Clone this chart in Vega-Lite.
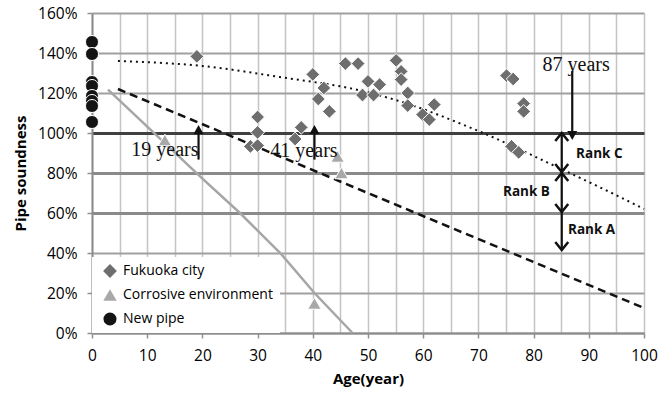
{
  "$schema": "https://vega.github.io/schema/vega-lite/v6.json",
  "width": 552,
  "height": 320,
  "autosize": "none",
  "padding": {"left": 92, "top": 13, "right": 23, "bottom": 61},
  "background": "white",
  "config": {"view": {"stroke": null}, "font": "Open Sans"},
  "datasets": {
    "points": [
      {"series": "Fukuoka city", "x": 19, "y": 138.3},
      {"series": "Fukuoka city", "x": 28.7, "y": 93.3},
      {"series": "Fukuoka city", "x": 30, "y": 93.7},
      {"series": "Fukuoka city", "x": 30, "y": 100.3},
      {"series": "Fukuoka city", "x": 30, "y": 108},
      {"series": "Fukuoka city", "x": 36.8, "y": 97},
      {"series": "Fukuoka city", "x": 37.9, "y": 102.8},
      {"series": "Fukuoka city", "x": 40, "y": 129.3},
      {"series": "Fukuoka city", "x": 41, "y": 117},
      {"series": "Fukuoka city", "x": 42, "y": 122.5},
      {"series": "Fukuoka city", "x": 43, "y": 110.8},
      {"series": "Fukuoka city", "x": 45.9, "y": 134.7},
      {"series": "Fukuoka city", "x": 48.2, "y": 134.7},
      {"series": "Fukuoka city", "x": 49, "y": 119},
      {"series": "Fukuoka city", "x": 50, "y": 125.8},
      {"series": "Fukuoka city", "x": 51, "y": 119},
      {"series": "Fukuoka city", "x": 52.1, "y": 124.2},
      {"series": "Fukuoka city", "x": 55.1, "y": 136.3},
      {"series": "Fukuoka city", "x": 56, "y": 130.8},
      {"series": "Fukuoka city", "x": 56, "y": 126.7},
      {"series": "Fukuoka city", "x": 57.2, "y": 120},
      {"series": "Fukuoka city", "x": 57.2, "y": 113.7},
      {"series": "Fukuoka city", "x": 59.9, "y": 109.2},
      {"series": "Fukuoka city", "x": 61.1, "y": 106.7},
      {"series": "Fukuoka city", "x": 62, "y": 114.2},
      {"series": "Fukuoka city", "x": 75.1, "y": 128.7},
      {"series": "Fukuoka city", "x": 76.3, "y": 127},
      {"series": "Fukuoka city", "x": 78.2, "y": 114.7},
      {"series": "Fukuoka city", "x": 78.2, "y": 110.8},
      {"series": "Fukuoka city", "x": 76, "y": 93.3},
      {"series": "Fukuoka city", "x": 77.3, "y": 90.3},
      {"series": "Corrosive environment", "x": 13.2, "y": 96.5},
      {"series": "Corrosive environment", "x": 44.5, "y": 88.3},
      {"series": "Corrosive environment", "x": 45.2, "y": 80},
      {"series": "Corrosive environment", "x": 40.3, "y": 14.8},
      {"series": "New pipe", "x": 0, "y": 145.5},
      {"series": "New pipe", "x": 0, "y": 139.5},
      {"series": "New pipe", "x": 0, "y": 125.5},
      {"series": "New pipe", "x": 0, "y": 123.5},
      {"series": "New pipe", "x": 0, "y": 118.5},
      {"series": "New pipe", "x": 0, "y": 116},
      {"series": "New pipe", "x": 0, "y": 113.5},
      {"series": "New pipe", "x": 0, "y": 105.5}
    ],
    "curves": [
      {"curve": "corrosive", "x": 2.9, "y": 121.7},
      {"curve": "corrosive", "x": 20.2, "y": 76.7},
      {"curve": "corrosive", "x": 26.8, "y": 60},
      {"curve": "corrosive", "x": 34.1, "y": 40},
      {"curve": "corrosive", "x": 40.3, "y": 20},
      {"curve": "corrosive", "x": 47.2, "y": 0},
      {"curve": "dashed", "x": 4.7, "y": 122},
      {"curve": "dashed", "x": 100, "y": 12.5},
      {"curve": "dotted", "x": 4.7, "y": 136},
      {"curve": "dotted", "x": 20, "y": 133.5},
      {"curve": "dotted", "x": 34, "y": 128},
      {"curve": "dotted", "x": 49, "y": 121},
      {"curve": "dotted", "x": 55, "y": 116.5},
      {"curve": "dotted", "x": 70, "y": 101},
      {"curve": "dotted", "x": 85, "y": 82},
      {"curve": "dotted", "x": 96, "y": 67.5},
      {"curve": "dotted", "x": 100, "y": 62}
    ],
    "arrows": [
      {"x": 19.3, "y": 86.7, "y2": 102},
      {"x": 40.3, "y": 86.7, "y2": 102},
      {"x": 87, "y": 98, "y2": 131},
      {"x": 85.1, "y": 42, "y2": 99}
    ],
    "heads": [
      {"kind": "filled", "dir": "up", "x": 19.3, "y": 104},
      {"kind": "filled", "dir": "up", "x": 40.3, "y": 104},
      {"kind": "filled", "dir": "down", "x": 87, "y": 96.5},
      {"kind": "open", "dir": "up", "x": 85.1, "y": 100},
      {"kind": "open", "dir": "down", "x": 85.1, "y": 80.5},
      {"kind": "open", "dir": "up", "x": 85.1, "y": 80},
      {"kind": "open", "dir": "down", "x": 85.1, "y": 60.5},
      {"kind": "open", "dir": "down", "x": 85.1, "y": 41.5}
    ],
    "labels": [
      {"kind": "years", "x": 13.2, "y": 91.7, "text": "19 years"},
      {"kind": "years", "x": 38.4, "y": 90.8, "text": "41 years"},
      {"kind": "years", "x": 87.7, "y": 134.2, "text": "87 years"},
      {"kind": "rank", "x": 91.9, "y": 89.7, "text": "Rank C"},
      {"kind": "rank", "x": 78.7, "y": 70.3, "text": "Rank B"},
      {"kind": "rank", "x": 90.5, "y": 51.3, "text": "Rank A"}
    ]
  },
  "layer": [
    {
      "data": {"name": "curves"},
      "transform": [{"filter": "datum.curve === 'corrosive'"}],
      "mark": {"type": "line", "color": "#a6a6a6", "strokeWidth": 2.5},
      "encoding": {
        "x": {
          "field": "x", "type": "quantitative",
          "scale": {"domain": [0, 100], "nice": false, "zero": false},
          "axis": {
            "title": "Age(year)",
            "titleFont": "Open Sans", "titleFontSize": 15, "titleFontWeight": "bold", "titleColor": "#000000", "titlePadding": 8,
            "values": [0,5,10,15,20,25,30,35,40,45,50,55,60,65,70,75,80,85,90,95,100],
            "tickCount": 40,
            "labelExpr": "datum.value % 10 === 0 ? datum.label : ''",
            "labelFont": "Open Sans", "labelFontSize": 15.5, "labelColor": "#000000", "labelPadding": 10,
            "labelFlush": false, "labelOverlap": false,
            "tickSize": 5, "tickColor": "#909090", "tickWidth": 1.5,
            "tickOpacity": {"condition": {"test": "datum.value % 10 !== 0", "value": 0}, "value": 1},
            "domainColor": "#8c8c8c", "domainWidth": 2,
            "grid": true, "gridColor": "#c4c4c4", "gridWidth": 1.5
          }
        },
        "y": {
          "field": "y", "type": "quantitative",
          "scale": {"domain": [0, 160], "nice": false},
          "axis": {
            "title": "Pipe soundness",
            "titleFont": "Open Sans", "titleFontSize": 15, "titleFontWeight": "bold", "titleColor": "#000000", "titlePadding": 9,
            "values": [0,20,40,60,80,100,120,140,160],
            "tickCount": 20,
            "labelExpr": "datum.value + '%'",
            "labelFont": "Open Sans", "labelFontSize": 15.5, "labelColor": "#000000", "labelPadding": 10,
            "labelFlush": false, "labelOverlap": false,
            "tickSize": 5, "tickColor": "#909090", "tickWidth": 1.5,
            "domainColor": "#8c8c8c", "domainWidth": 2,
            "grid": true,
            "gridColor": {"condition": [{"test": "datum.value === 100", "value": "#404040"}, {"test": "datum.value === 80 || datum.value === 60", "value": "#8a8a8a"}], "value": "#a0a0a0"},
            "gridWidth": {"condition": {"test": "datum.value === 100 || datum.value === 80 || datum.value === 60", "value": 3}, "value": 1.8}
          }
        }
      }
    },
    {
      "data": {"name": "curves"},
      "transform": [{"filter": "datum.curve === 'dashed'"}],
      "mark": {"type": "line", "color": "#111111", "strokeWidth": 2.5, "strokeDash": [8, 5]},
      "encoding": {"x": {"field": "x", "type": "quantitative"}, "y": {"field": "y", "type": "quantitative"}}
    },
    {
      "data": {"name": "curves"},
      "transform": [{"filter": "datum.curve === 'dotted'"}],
      "mark": {"type": "line", "color": "#111111", "strokeWidth": 2, "strokeDash": [2, 4], "interpolate": "monotone"},
      "encoding": {"x": {"field": "x", "type": "quantitative"}, "y": {"field": "y", "type": "quantitative"}}
    },
    {
      "data": {"name": "arrows"},
      "mark": {"type": "rule", "color": "#111111", "strokeWidth": 2.2},
      "encoding": {"x": {"field": "x", "type": "quantitative"}, "y": {"field": "y", "type": "quantitative"}, "y2": {"field": "y2"}}
    },
    {
      "data": {"name": "heads"},
      "transform": [{"filter": "datum.kind === 'filled' && datum.dir === 'up'"}],
      "mark": {"type": "point", "shape": "M-0.5,0.9L0,0L0.5,0.9Z", "filled": true, "color": "#111111", "size": 400, "opacity": 1},
      "encoding": {"x": {"field": "x", "type": "quantitative"}, "y": {"field": "y", "type": "quantitative"}}
    },
    {
      "data": {"name": "heads"},
      "transform": [{"filter": "datum.kind === 'filled' && datum.dir === 'down'"}],
      "mark": {"type": "point", "shape": "M-0.5,-0.9L0,0L0.5,-0.9Z", "filled": true, "color": "#111111", "size": 400, "opacity": 1},
      "encoding": {"x": {"field": "x", "type": "quantitative"}, "y": {"field": "y", "type": "quantitative"}}
    },
    {
      "data": {"name": "heads"},
      "transform": [{"filter": "datum.kind === 'open' && datum.dir === 'up'"}],
      "mark": {"type": "point", "shape": "M-0.65,0.8L0,0L0.65,0.8", "filled": false, "color": "#111111", "strokeWidth": 2.5, "size": 400, "opacity": 1},
      "encoding": {"x": {"field": "x", "type": "quantitative"}, "y": {"field": "y", "type": "quantitative"}}
    },
    {
      "data": {"name": "heads"},
      "transform": [{"filter": "datum.kind === 'open' && datum.dir === 'down'"}],
      "mark": {"type": "point", "shape": "M-0.65,-0.8L0,0L0.65,-0.8", "filled": false, "color": "#111111", "strokeWidth": 2.5, "size": 400, "opacity": 1},
      "encoding": {"x": {"field": "x", "type": "quantitative"}, "y": {"field": "y", "type": "quantitative"}}
    },
    {
      "data": {"name": "points"},
      "mark": {"type": "point", "filled": true, "opacity": 1, "stroke": "white", "strokeWidth": 1},
      "encoding": {
        "x": {"field": "x", "type": "quantitative"},
        "y": {"field": "y", "type": "quantitative"},
        "color": {
          "field": "series", "type": "nominal",
          "scale": {"domain": ["Fukuoka city", "Corrosive environment", "New pipe"], "range": ["#6e6e6e", "#a8a8a8", "#141414"]},
          "legend": {
            "title": null, "orient": "none", "legendX": 0, "legendY": 244,
            "fillColor": "white", "padding": 7, "symbolSize": 45, "symbolOffset": 4, "labelOffset": 6,
            "labelFont": "Open Sans", "labelFontSize": 14, "labelColor": "#000000", "rowPadding": 10,
            "symbolStrokeWidth": 0, "zindex": 2
          }
        },
        "shape": {
          "field": "series", "type": "nominal",
          "scale": {"domain": ["Fukuoka city", "Corrosive environment", "New pipe"], "range": ["diamond", "triangle-up", "circle"]}
        },
        "size": {
          "field": "series", "type": "nominal",
          "scale": {"domain": ["Fukuoka city", "Corrosive environment", "New pipe"], "range": [190, 170, 110]},
          "legend": null
        }
      }
    },
    {
      "data": {"name": "labels"},
      "transform": [{"filter": "datum.kind === 'years'"}],
      "mark": {"type": "text", "font": "Liberation Serif", "fontSize": 20, "color": "#111111", "align": "center", "baseline": "middle"},
      "encoding": {"x": {"field": "x", "type": "quantitative"}, "y": {"field": "y", "type": "quantitative"}, "text": {"field": "text"}}
    },
    {
      "data": {"name": "labels"},
      "transform": [{"filter": "datum.kind === 'rank'"}],
      "mark": {"type": "text", "font": "Open Sans", "fontSize": 13.5, "fontWeight": "bold", "color": "#111111", "align": "center", "baseline": "middle"},
      "encoding": {"x": {"field": "x", "type": "quantitative"}, "y": {"field": "y", "type": "quantitative"}, "text": {"field": "text"}}
    }
  ]
}
